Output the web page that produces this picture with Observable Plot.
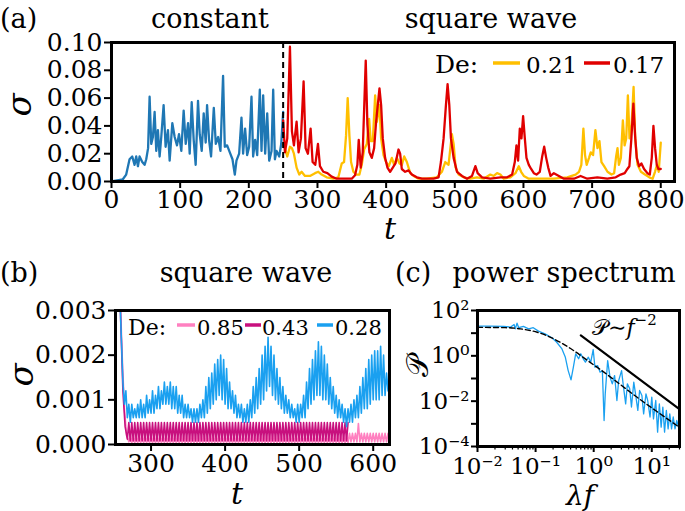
<!DOCTYPE html>
<html><head><meta charset="utf-8">
<script src="https://cdn.jsdelivr.net/npm/d3@7"></script>
<script src="https://cdn.jsdelivr.net/npm/@observablehq/plot@0.6"></script>
<style>
body{margin:0;background:#fff;}
#fig{position:relative;width:685px;height:511px;overflow:hidden;background:#fff;}
</style></head><body><div id="fig"></div>
<script>
// ---------- Panel (a): sigma vs t ----------
const aXTicks = [0,100,200,300,400,500,600,700,800];
const aYTicks = [0,0.02,0.04,0.06,0.08,0.10];
const aConstT = [0,16.5,21.4,26.3,30.2,33.6,36,38.5,40.9,44.8,
 48.2,50.6,53.3,55.5,57.9,60.3,62.8,65.2,67.6,70.1,
 72.5,75.9,78.8,82.2,84.7,88.6,92,95.4,98.3,101.7,
 105.1,108.1,111.5,113.9,116.8,119.7,122.6,126,128.5,131.4,
 134.3,137.2,139.2,142.1,145,149,151.9,155.3,158.7,162.5,
 165,168.4,172.3,176.2,179.6,182,185.9,189.3,191.7,194.6,
 197.6,200.5,203.9,206.3,209.2,212.2,216,218.5,220.9,223.8,
 226.8,229.7,233.1,235.5,238,240.4,244.3,247.2,250];
const aConstS = [0,0.0016,0.005,0.016,0.018,0.012,0.018,0.011,0.018,0.014,
 0.012,0.016,0.024,0.061,0.027,0.032,0.050,0.022,0.037,0.018,
 0.032,0.055,0.025,0.037,0.015,0.042,0.032,0.026,0.034,0.022,
 0.051,0.027,0.042,0.020,0.057,0.030,0.012,0.058,0.034,0.022,
 0.049,0.028,0.055,0.030,0.018,0.053,0.027,0.032,0.022,0.076,
 0.025,0.026,0.021,0.016,0.005,0.015,0.020,0.046,0.020,0.038,
 0.019,0.025,0.061,0.018,0.030,0.019,0.066,0.022,0.062,0.020,
 0.049,0.015,0.022,0.066,0.016,0.022,0.018,0.027,0.050];
const a021T = [250.1,252.6,256,259.9,262.8,265.7,269.6,273.5,276.9,281.8,
 289.1,296.4,301.2,306.1,313.4,323.1,330.4,335.3,338.7,341.6,
 344,346.5,348.9,352.3,356.2,361.1,364.5,367.9,371.8,375.2,
 377.6,380.6,384,386.5,390.3,392.7,396.2,400,403.9,408.3,
 411.7,415.6,419.5,422.9,426.3,430.2,435.1,440,447.3,459.3,
 473.9,481.2,486.1,490.9,495.8,498.3,501.2,505.6,512.9,522.6,
 532.4,542.1,551.8,556.7,561.6,566.4,571.3,581,588.3,593.2,
 596.6,600.5,607.8,624.8,644.3,663.8,676,680.9,684.3,687.3,
 689.7,692.1,695.5,698,701.4,704.8,707.8,710.7,713.6,717.5,
 722.4,728.2,732.1,735,737,739,741.9,744.8,747.3,749.7,
 752.1,754.5,757.5,760.4,762.8,766.2,771.1,777,783.3,788.2,
 791.6,794.5,797,800];
const a021S = [0.027,0.024,0.018,0.025,0.024,0.020,0.010,0.005,0.007,0.004,
 0.004,0.006,0.007,0.005,0.003,0.002,0.003,0.013,0.014,0.033,
 0.060,0.033,0.014,0.007,0.005,0.005,0.012,0.023,0.027,0.045,
 0.029,0.029,0.062,0.043,0.055,0.031,0.019,0.014,0.011,0.017,
 0.012,0.017,0.013,0.012,0.018,0.014,0.006,0.004,0.002,0.002,
 0.003,0.007,0.014,0.012,0.034,0.027,0.010,0.005,0.003,0.002,
 0.003,0.002,0.005,0.004,0.006,0.005,0.002,0.003,0.006,0.011,
 0.007,0.004,0.002,0.002,0.002,0.003,0.005,0.007,0.012,0.038,
 0.019,0.012,0.017,0.021,0.019,0.037,0.024,0.029,0.014,0.011,
 0.007,0.005,0.006,0.018,0.024,0.012,0.017,0.044,0.026,0.031,
 0.062,0.031,0.041,0.068,0.031,0.012,0.007,0.005,0.003,0.002,
 0.007,0.012,0.007,0.028];
const a017T = [250.1,252.6,256,259.9,262.8,265.7,269.6,272.5,275.9,279.8,
 282.7,286.1,290,292.9,296.8,300.7,303.6,308.5,314.4,320.7,
 328,335.3,342.6,349.9,354.7,358.1,360.1,363,365.9,370.3,
 372.7,375.6,379.1,382.5,385.4,390.3,392.7,395.1,398.5,401.9,
 405.8,409.7,413.6,418,420.4,422.8,427.7,432.6,437.4,444.7,
 452,459.3,469.1,476.4,479.8,483.7,487.1,489.5,492,494.4,
 498.3,503.2,510.5,517.8,525.1,530,533.3,539.7,551.8,566.4,
 576.2,583.5,587.4,589.8,592.2,594.7,597.1,599.5,602,604.4,
 607.8,611.2,615.1,619,623.8,627.3,630.2,633.1,636.1,639.5,
 644.3,651.6,658.9,673.5,683.2,693,707.6,722.2,734.4,741.6,
 747.5,751.4,754.3,757.2,760.1,762.6,765,768.4,771.8,775.7,
 780.5,784,786.9,789.3,791.7,794.2,796.6,800];
const a017S = [0.044,0.021,0.031,0.097,0.036,0.026,0.043,0.021,0.031,0.072,
 0.024,0.020,0.038,0.014,0.012,0.027,0.011,0.007,0.006,0.0035,
 0.002,0.002,0.002,0.002,0.0045,0.012,0.030,0.010,0.021,0.087,
 0.041,0.021,0.017,0.024,0.043,0.067,0.055,0.031,0.017,0.010,
 0.007,0.010,0.013,0.023,0.020,0.009,0.007,0.008,0.005,0.003,
 0.002,0.002,0.002,0.003,0.014,0.031,0.055,0.070,0.055,0.031,
 0.017,0.007,0.004,0.002,0.004,0.011,0.006,0.003,0.002,0.003,
 0.003,0.005,0.014,0.026,0.015,0.038,0.031,0.047,0.031,0.017,
 0.012,0.009,0.006,0.005,0.007,0.018,0.025,0.017,0.010,0.004,
 0.006,0.004,0.002,0.002,0.004,0.002,0.003,0.002,0.003,0.005,
 0.006,0.009,0.011,0.031,0.056,0.033,0.017,0.011,0.013,0.009,
 0.006,0.005,0.017,0.040,0.024,0.012,0.009,0.009];
const aSwitchT = [250];

// ---------- Panel (b): square wave, small sigma ----------
const bXTicks = [300,400,500,600];
const bYTicks = [0,0.001,0.002,0.003];
const bStep = 2;
const b085LeadT = [252,257,261,264,267,270];
const b085LeadS = [0.006,0.004,0.002,0.0008,0.0002,0.00006];
const b085Start = 272;
const b085S = [
 0.0002,0.00004,0.0002,0.00004,0.0002,0.00004,0.0002,0.00004,0.0002,0.00004,
 0.0002,0.00004,0.0002,0.00004,0.0002,0.00004,0.0002,0.00004,0.0002,0.00004,
 0.0002,0.00004,0.0002,0.00004,0.0002,0.00004,0.0002,0.00004,0.0002,0.00004,
 0.0002,0.00004,0.0002,0.00004,0.0002,0.00004,0.0002,0.00004,0.0002,0.00004,
 0.0002,0.00004,0.0002,0.00004,0.0002,0.00004,0.0002,0.00004,0.0002,0.00004,
 0.0002,0.00004,0.0002,0.00004,0.0002,0.00004,0.0002,0.00004,0.0002,0.00004,
 0.0002,0.00004,0.0002,0.00004,0.0002,0.00004,0.0002,0.00004,0.0002,0.00004,
 0.0002,0.00004,0.0002,0.00004,0.0002,0.00004,0.0002,0.00004,0.0002,0.00004,
 0.0002,0.00004,0.0002,0.00004,0.0002,0.00004,0.0002,0.00004,0.0002,0.00004,
 0.0002,0.00004,0.0002,0.00004,0.0002,0.00004,0.0002,0.00004,0.0002,0.00004,
 0.0002,0.00004,0.0002,0.00004,0.0002,0.00004,0.0002,0.00004,0.0002,0.00004,
 0.0002,0.00004,0.0002,0.00004,0.0002,0.00004,0.0002,0.00004,0.0002,0.00004,
 0.0002,0.00004,0.0002,0.00004,0.0002,0.00004,0.0002,0.00004,0.0002,0.00004,
 0.0002,0.00004,0.0002,0.00004,0.0002,0.00004,0.0002,0.00004,0.0002,0.00004,
 0.0002,0.00004,0.0002,0.00004,0.0002,0.00004,0.0002,0.00004,
 0.00025,0.00006,0.00025,0.00006,0.00025,0.00006,0.00047,0.00006,0.00025,0.00006,
 0.00025,0.00006,0.00025,0.00006,0.00025,0.00006,0.00025,0.00006,0.00025,0.00006,
 0.00025,0.00006,0.00025,0.00006,0.00025,0.00006,0.00025];
const b043LeadT = [252,256,259,262,265,268];
const b043LeadS = [0.006,0.0045,0.0028,0.0012,0.0004,0.00012];
const b043Start = 270;
const b043S = [
 0.00049,0.00008,0.00049,0.00008,0.00049,0.00008,0.00049,0.00008,0.00049,0.00008,
 0.00049,0.00008,0.00049,0.00008,0.00049,0.00008,0.00049,0.00008,0.00049,0.00008,
 0.00049,0.00008,0.00049,0.00008,0.00049,0.00008,0.00049,0.00008,0.00049,0.00008,
 0.00049,0.00008,0.00049,0.00008,0.00049,0.00008,0.00049,0.00008,0.00049,0.00008,
 0.00049,0.00008,0.00049,0.00008,0.00049,0.00008,0.00049,0.00008,0.00049,0.00008,
 0.00049,0.00008,0.00049,0.00008,0.00049,0.00008,0.00049,0.00008,0.00049,0.00008,
 0.00049,0.00008,0.00049,0.00008,0.00049,0.00008,0.00049,0.00008,0.00049,0.00008,
 0.00049,0.00008,0.00049,0.00008,0.00049,0.00008,0.00049,0.00008,0.00049,0.00008,
 0.00049,0.00008,0.00049,0.00008,0.00049,0.00008,0.00049,0.00008,0.00049,0.00008,
 0.00049,0.00008,0.00049,0.00008,0.00049,0.00008,0.00049,0.00008,0.00049,0.00008,
 0.00049,0.00008,0.00049,0.00008,0.00049,0.00008,0.00049,0.00008,0.00049,0.00008,
 0.00049,0.00008,0.00049,0.00008,0.00049,0.00008,0.00049,0.00008,0.00049,0.00008,
 0.00049,0.00008,0.00049,0.00008,0.00049,0.00008,0.00049,0.00008,0.00049,0.00008,
 0.00049,0.00008,0.00049,0.00008,0.00049,0.00008,0.00049,0.00008,0.00049,0.00008,
 0.00049,0.00008,0.00049,0.00008,0.00049,0.00008,0.00049,0.00008,0.00049];
const b028LeadT = [252,256,259,262,264];
const b028LeadS = [0.006,0.0042,0.0028,0.0014,0.0009];
const b028Start = 266;
const b028S = [
 0.0012,0.0006,0.0009,0.0005,0.0009,0.0006,0.0008,0.0006,0.0009,0.0006,
 0.0010,0.0006,0.0009,0.0006,0.0011,0.0007,0.0010,0.0007,0.0012,0.0007,
 0.0011,0.0008,0.0013,0.0008,0.0012,0.0009,0.0014,0.0009,0.0013,0.0009,
 0.0014,0.0008,0.0013,0.0008,0.0013,0.0007,0.0011,0.0007,0.0011,0.0006,
 0.0009,0.0006,0.0009,0.0006,0.0008,0.0005,0.0008,0.0005,0.0008,0.0005,
 0.0009,0.0006,0.0010,0.0006,0.0013,0.0007,0.0015,0.0008,0.0016,0.0009,
 0.0018,0.0010,0.0019,0.0011,0.0020,0.0010,0.0019,0.0009,0.0017,0.0008,
 0.0014,0.0008,0.0012,0.0007,0.0011,0.0006,0.0009,0.0006,0.0009,0.0005,
 0.0008,0.0005,0.0009,0.0005,0.0010,0.0006,0.0013,0.0007,0.0015,0.0008,
 0.0017,0.0009,0.0020,0.0010,0.0022,0.0012,0.0024,0.0013,0.0022,0.0011,
 0.0020,0.0010,0.0017,0.0009,0.0015,0.0008,0.0013,0.0007,0.0011,0.0007,
 0.0010,0.0006,0.0009,0.0006,0.0008,0.0005,0.0009,0.0005,0.0009,0.0006,
 0.0011,0.0006,0.0014,0.0008,0.0017,0.0009,0.0019,0.0010,0.0021,0.0011,
 0.0023,0.0011,0.0022,0.0010,0.0020,0.0010,0.0018,0.0009,0.0015,0.0008,
 0.0013,0.0007,0.0011,0.0006,0.0010,0.0006,0.0009,0.0005,0.0008,0.0004,
 0.0008,0.0005,0.0009,0.0005,0.0010,0.0006,0.0011,0.0006,0.0013,0.0007,
 0.0015,0.0008,0.0017,0.0008,0.0019,0.0009,0.0020,0.0010,0.0021,0.0010,
 0.0021,0.0010,0.0022,0.0011,0.0020,0.0011,0.0016,0.0012];

// ---------- Panel (c): power spectrum ----------
const cXTicks = [0.01,0.1,1,10];
const cXTickLabels = ["10⁻²","10⁻¹","10⁰","10¹"];
const cXMinor = [0.02,0.03,0.04,0.05,0.06,0.07,0.08,0.09,0.2,0.3,0.4,0.5,0.6,0.7,0.8,0.9,2,3,4,5,6,7,8,9,20,30];
const cYTicks = [1e-4,1e-3,1e-2,1e-1,1,10,100];
const cYTickLabels = ["10⁻⁴","","10⁻²","","10⁰","","10²"];
const cF = [0.0105,0.0166,0.0282,0.0372,0.0427,0.0447,0.0479,0.0513,0.0617,0.0759,
 0.0912,0.112,0.145,0.191,0.229,0.282,0.324,0.363,0.407,0.447,
 0.49,0.55,0.60,0.66,0.72,0.81,0.89,0.98,1.05,1.17,
 1.29,1.41,1.51,1.58,1.74,1.91,2.09,2.29,2.51,2.69,
 3.02,3.24,3.55,3.8,4.17,4.47,4.9,5.25,5.75,6.17,
 6.76,7.24,7.94,8.51,9.33,10,10.7,11.7,12.6,13.5,
 14.5,15.5,16.6,17.8,19.1,20.4,21.9,23.4,25.1,26.9,
 28.8,30];
const cP = [20.4,20.4,20,18.6,24,15.5,27.5,17.4,20,15.5,
 17.4,12.3,9.3,6.3,4.07,2.09,0.89,0.229,0.087,0.316,
 1.23,0.74,1.23,0.74,0.525,0.87,0.525,1.9,0.316,0.37,
 0.19,0.224,0.0014,0.021,0.62,0.115,0.058,0.135,0.0107,0.081,
 0.224,0.048,0.0076,0.058,0.035,0.0055,0.069,0.021,0.0039,0.0295,
 0.0178,0.00275,0.021,0.0107,0.002,0.0151,0.00166,0.0107,0.00043,0.0076,
 0.00071,0.0055,0.00043,0.0039,0.0006,0.00275,0.0006,0.002,0.0006,0.0014,
 0.00071,0.00085];
const cFitF = [0.01,0.03,0.055,0.107,0.2,0.4,0.78,1.5,5.6,30];
const cFitP = [18,17.5,15.5,11,5.8,2.1,0.63,0.19,0.0148,0.0007];
const cLawF = [0.6,29.5];
const cLawP = [7.9,0.0046];

// ---------- colours ----------
const colBlueA = "#1f77b4", colYellow = "#ffbf00", colRed = "#e00000";
const colPink = "#ff80c0", colMagenta = "#c8107e", colBlueB = "#1aa0f0";

const zip = (T, S) => T.map((t, i) => ({t, s: S[i]}));
const grid = (leadT, leadS, start, S) =>
  zip(leadT.concat(S.map((_, i) => start + bStep * i)), leadS.concat(S));

const fig = document.getElementById("fig");
const styleFor = size => ({fontFamily: "DejaVu Serif", fontSize: size + "px", color: "#000", background: "transparent", overflow: "visible"});
function put(node, left, top) {
  node.style.position = "absolute"; node.style.left = left + "px"; node.style.top = top + "px";
  fig.appendChild(node);
}
const axisCommon = {tickSize: 7, strokeWidth: 2, label: null};

// Panel (a)
put(Plot.plot({
  width: 685, height: 230, marginLeft: 111, marginRight: 11, marginTop: 42, marginBottom: 49,
  style: styleFor(25),
  x: {domain: [0, 820]}, y: {domain: [0, 0.1]},
  marks: [
    Plot.axisX({...axisCommon, ticks: aXTicks, tickPadding: 2}),
    Plot.axisY({...axisCommon, ticks: aYTicks, tickPadding: 2, tickFormat: d3.format(".2f")}),
    Plot.line(zip(aConstT, aConstS), {x: "t", y: "s", stroke: colBlueA, strokeWidth: 2.3}),
    Plot.line(zip(a021T, a021S), {x: "t", y: "s", stroke: colYellow, strokeWidth: 2.3}),
    Plot.line(zip(a017T, a017S), {x: "t", y: "s", stroke: colRed, strokeWidth: 2.3}),
    Plot.ruleX(aSwitchT, {stroke: "#000", strokeWidth: 2, strokeDasharray: "6,4"}),
    Plot.frame({stroke: "#000", strokeWidth: 3})
  ]
}), 0, 0);

// Panel (b)
put(Plot.plot({
  width: 400, height: 250, marginLeft: 115, marginRight: 11, marginTop: 60, marginBottom: 56,
  style: styleFor(25),
  x: {domain: [252, 622]}, y: {domain: [0, 0.003]},
  marks: [
    Plot.axisX({...axisCommon, ticks: bXTicks, tickPadding: 3}),
    Plot.axisY({...axisCommon, ticks: bYTicks, tickPadding: 2, tickFormat: d3.format(".3f")}),
    Plot.line(grid(b085LeadT, b085LeadS, b085Start, b085S), {x: "t", y: "s", stroke: colPink, strokeWidth: 1.6, clip: true}),
    Plot.line(grid(b043LeadT, b043LeadS, b043Start, b043S), {x: "t", y: "s", stroke: colMagenta, strokeWidth: 1.6, clip: true}),
    Plot.line(grid(b028LeadT, b028LeadS, b028Start, b028S), {x: "t", y: "s", stroke: colBlueB, strokeWidth: 1.6, clip: true}),
    Plot.frame({stroke: "#000", strokeWidth: 3})
  ]
}), 0, 250);

// Panel (c)
const cXLabelOf = new Map(cXTicks.map((v, i) => [v, cXTickLabels[i]]));
const cYLabelOf = new Map(cYTicks.map((v, i) => [v, cYTickLabels[i]]));
put(Plot.plot({
  width: 285, height: 250, marginLeft: 77, marginRight: 6, marginTop: 60, marginBottom: 54,
  style: styleFor(23),
  x: {type: "log", domain: [0.01, 30]}, y: {type: "log", domain: [1e-4, 100]},
  marks: [
    Plot.axisX({...axisCommon, ticks: cXTicks, tickSize: 6, tickPadding: 5, tickFormat: d => cXLabelOf.get(d)}),
    Plot.axisX({ticks: cXMinor, tickSize: 3.5, strokeWidth: 1.2, tickFormat: () => "", label: null}),
    Plot.axisY({...axisCommon, ticks: cYTicks, tickSize: 6, tickPadding: 2, tickFormat: d => cYLabelOf.get(d)}),
    Plot.line(zip(cF, cP), {x: "t", y: "s", stroke: colBlueB, strokeWidth: 1.3, clip: true}),
    Plot.line(zip(cFitF, cFitP), {x: "t", y: "s", stroke: "#000", strokeWidth: 1.4, strokeDasharray: "5,3", curve: "monotone-x"}),
    Plot.line(zip(cLawF, cLawP), {x: "t", y: "s", stroke: "#000", strokeWidth: 2.2}),
    Plot.frame({stroke: "#000", strokeWidth: 3})
  ]
}), 400, 250);

// ---------- Text overlay ----------
const ov = d3.create("svg").attr("width", 685).attr("height", 511)
  .style("position", "absolute").style("left", "0px").style("top", "0px")
  .style("pointer-events", "none").style("font-family", "DejaVu Serif").style("overflow", "visible");
function txt(x, y, s, {size = 27, anchor = "start", italic = false, rotate = false, family} = {}) {
  const t = ov.append("text").attr("x", x).attr("y", y).attr("font-size", size)
    .attr("text-anchor", anchor).attr("fill", "#000").text(s);
  if (italic) t.attr("font-style", "italic");
  if (family) t.attr("font-family", family);
  if (rotate) t.attr("transform", `rotate(-90 ${x} ${y})`);
  return t;
}
function legLine(x1, x2, y, c) {
  ov.append("line").attr("x1", x1).attr("x2", x2).attr("y1", y).attr("y2", y)
    .attr("stroke", c).attr("stroke-width", 3.5);
}
// (a)
txt(0, 28, "(a)");
txt(210, 28, "constant", {anchor: "middle"});
txt(491, 28, "square wave", {anchor: "middle"});
txt(31, 105, "σ", {size: 34, italic: true, anchor: "middle", rotate: true});
txt(390, 239, "t", {size: 30, italic: true, anchor: "middle"});
txt(435, 73, "De:", {size: 25});
legLine(493, 520, 63, colYellow);
txt(526, 73, "0.21", {size: 23});
legLine(584, 610, 63, colRed);
txt(613, 73, "0.17", {size: 23});
// (b)
txt(0, 282, "(b)");
txt(246, 282, "square wave", {anchor: "middle"});
txt(33, 375, "σ", {size: 34, italic: true, anchor: "middle", rotate: true});
txt(237, 504, "t", {size: 30, italic: true, anchor: "middle"});
txt(128, 335, "De:", {size: 22});
legLine(177, 195, 325, colPink);
txt(197, 335, "0.85", {size: 21});
legLine(245, 261, 325, colMagenta);
txt(262, 335, "0.43", {size: 21});
legLine(317, 333, 325, colBlueB);
txt(335, 335, "0.28", {size: 21});
// (c)
txt(395, 282, "(c)");
txt(564, 282, "power spectrum", {anchor: "middle"});
txt(428, 366, "𝒫", {size: 30, anchor: "middle", rotate: true, family: "DejaVu Sans"});
const lf = txt(580, 505, "λ", {size: 28, italic: true, anchor: "middle"});
lf.append("tspan").text("f");
const law = txt(592, 335, "𝒫", {size: 22, family: "DejaVu Sans"});
law.append("tspan").attr("font-family", "DejaVu Serif").text("∼");
law.append("tspan").attr("font-family", "DejaVu Serif").attr("font-style", "italic").text("f");
law.append("tspan").attr("font-family", "DejaVu Serif").attr("font-size", 15).attr("dy", -10).text("−2");
fig.appendChild(ov.node());
</script></body></html>
